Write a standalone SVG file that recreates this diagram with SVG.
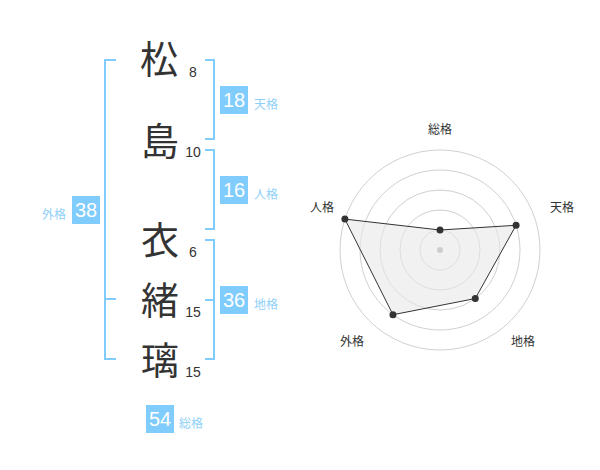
<svg xmlns="http://www.w3.org/2000/svg" width="600" height="470" viewBox="0 0 600 470">
<style>
.kanji{font-family:"Noto Sans CJK JP","Noto Sans",sans-serif;font-size:38px;fill:#333;text-anchor:middle}
.num{font-family:"Liberation Sans",Arial,sans-serif;font-size:14px;fill:#333;text-anchor:middle}
.br{fill:none;stroke:#80ccfc;stroke-width:2}
.box{fill:#80ccfc}
.bnum{font-family:"Liberation Sans",Arial,sans-serif;font-size:20px;fill:#fff;text-anchor:middle}
.lab{font-family:"Noto Sans CJK JP",sans-serif;font-size:12px;fill:#8fd0f8}
.rl{font-family:"Noto Sans CJK JP",sans-serif;font-size:12px;fill:#333;text-anchor:middle}
.ring{fill:none;stroke:#d0d0d0;stroke-width:1}
.pt{fill:#333}
</style>
<rect width="600" height="470" fill="#fff"/>
<g id="connectors">
<path class="br" d="M116,60 H105 V359 H116 M105,299 H116"/>
<path class="br" d="M205,60 H214 V139 H205"/>
<path class="br" d="M205,150 H214 V229 H205"/>
<path class="br" d="M205,240 H214 V359 H205 M205,300 H214"/>
</g>
<g id="char-matsu"><text class="kanji" x="159" y="73">松</text><text class="num" x="193" y="77">8</text></g>
<g id="char-shima"><text class="kanji" x="160" y="155">島</text><text class="num" x="193" y="157">10</text></g>
<g id="char-i"><text class="kanji" x="160" y="254">衣</text><text class="num" x="193" y="257">6</text></g>
<g id="char-o"><text class="kanji" x="160" y="314">緒</text><text class="num" x="193" y="317">15</text></g>
<g id="char-ri"><text class="kanji" x="160" y="374">璃</text><text class="num" x="193" y="377">15</text></g>
<g id="tenkaku"><rect class="box" x="220" y="86" width="28" height="28"/><text class="bnum" x="234" y="107">18</text><text class="lab" x="254" y="109">天格</text></g>
<g id="jinkaku"><rect class="box" x="220" y="176" width="28" height="28"/><text class="bnum" x="234" y="197">16</text><text class="lab" x="254" y="199">人格</text></g>
<g id="chikaku"><rect class="box" x="220" y="286" width="28" height="28"/><text class="bnum" x="234" y="307">36</text><text class="lab" x="254" y="309">地格</text></g>
<g id="gaikaku"><rect class="box" x="72" y="196" width="28" height="28"/><text class="bnum" x="86" y="217">38</text><text class="lab" x="66" y="219" text-anchor="end">外格</text></g>
<g id="soukaku"><rect class="box" x="146" y="405" width="28" height="28"/><text class="bnum" x="160" y="426">54</text><text class="lab" x="179" y="428">総格</text></g>
<g id="radar">
<circle class="ring" cx="440" cy="250" r="20"/>
<circle class="ring" cx="440" cy="250" r="40"/>
<circle class="ring" cx="440" cy="250" r="60"/>
<circle class="ring" cx="440" cy="250" r="80"/>
<circle class="ring" cx="440" cy="250" r="100"/>
<polygon points="440,230 516.08,225.28 475.27,298.54 392.98,314.72 344.89,219.10" fill="#e8e8e8" fill-opacity="0.6" stroke="#333" stroke-width="1"/>
<circle cx="440" cy="250" r="3" fill="#ccc"/>
<circle class="pt" cx="440" cy="230" r="3.5"/>
<circle class="pt" cx="516.08" cy="225.28" r="3.5"/>
<circle class="pt" cx="475.27" cy="298.54" r="3.5"/>
<circle class="pt" cx="392.98" cy="314.72" r="3.5"/>
<circle class="pt" cx="344.89" cy="219.10" r="3.5"/>
<text class="rl" x="440" y="134">総格</text>
<text class="rl" x="562" y="212">天格</text>
<text class="rl" x="322" y="212">人格</text>
<text class="rl" x="352" y="346">外格</text>
<text class="rl" x="523" y="346">地格</text>
</g>
</svg>
